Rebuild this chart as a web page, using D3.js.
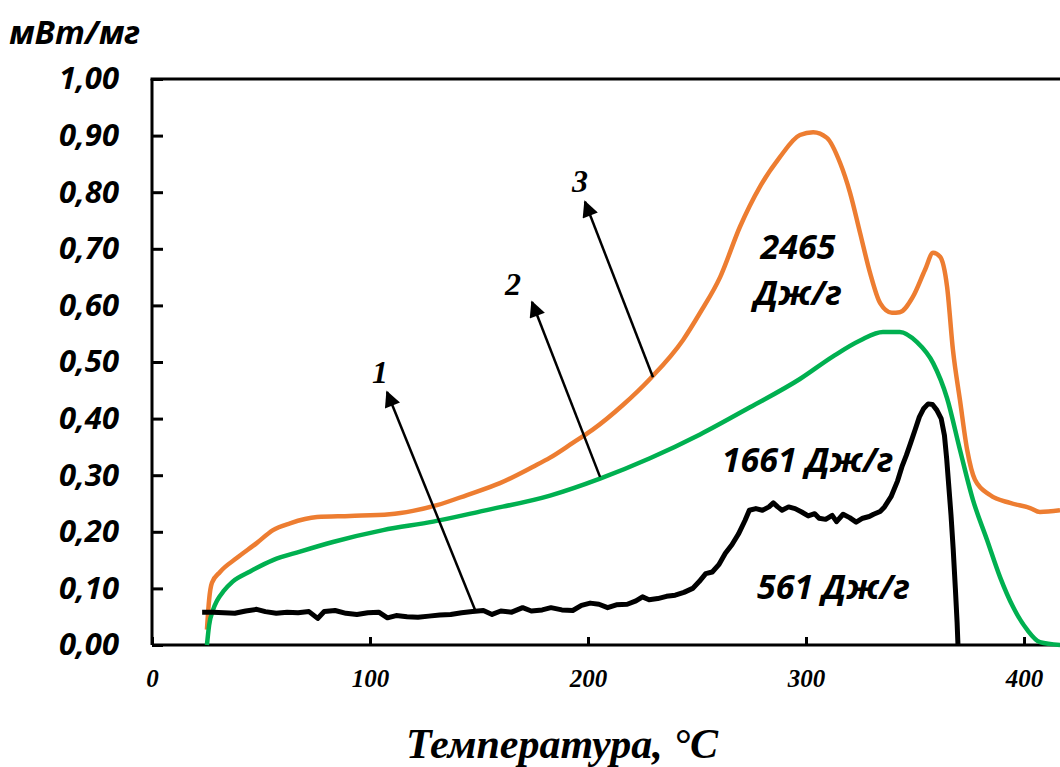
<!DOCTYPE html>
<html>
<head>
<meta charset="utf-8">
<script src="https://cdn.jsdelivr.net/npm/d3@7"></script>
<style>
  body { margin: 0; background: #fff; }
  svg { display: block; }
  .ytick text { font-family: "Open Sans", sans-serif; font-weight: 700; font-style: italic; }
  .xtick text { font-family: "Liberation Serif", serif; font-weight: 700; font-style: italic; }
</style>
</head>
<body>
<svg></svg>
<script>
// temperature (°C) / heat flow (mW/mg)
var curve1T = [23, 28, 33, 38, 43, 48, 52, 57, 62, 67, 72, 76, 79, 84, 89, 94, 99, 104, 108, 112, 117, 122, 127, 132, 137, 142, 147, 152, 156, 160, 165, 170, 174, 179, 183, 188, 193, 197, 201, 205, 209, 213, 218, 222, 225, 228, 232, 236, 240, 244, 248, 251, 254, 257, 260, 263, 266, 269, 272, 274, 277, 280, 283, 285, 287, 289, 292, 295, 298, 301, 304, 306, 309, 312, 314, 317, 320, 323, 326, 329, 331, 334, 336, 339, 342, 344, 346, 348, 350, 352, 354, 356, 358, 360, 362, 363.5, 364.5, 365.5, 366.5, 367.5, 368.5, 369.3, 369.7];
var curve1V = [0.058, 0.058, 0.057, 0.056, 0.060, 0.063, 0.059, 0.056, 0.058, 0.057, 0.059, 0.047, 0.059, 0.061, 0.056, 0.054, 0.057, 0.058, 0.048, 0.052, 0.050, 0.049, 0.051, 0.053, 0.054, 0.057, 0.059, 0.061, 0.054, 0.060, 0.058, 0.066, 0.060, 0.062, 0.066, 0.062, 0.061, 0.070, 0.074, 0.072, 0.066, 0.071, 0.072, 0.078, 0.085, 0.080, 0.082, 0.086, 0.088, 0.093, 0.100, 0.112, 0.126, 0.129, 0.142, 0.162, 0.177, 0.196, 0.220, 0.238, 0.241, 0.238, 0.244, 0.251, 0.244, 0.238, 0.244, 0.241, 0.235, 0.228, 0.232, 0.224, 0.222, 0.229, 0.218, 0.231, 0.225, 0.217, 0.224, 0.227, 0.231, 0.236, 0.244, 0.262, 0.290, 0.315, 0.335, 0.357, 0.380, 0.403, 0.418, 0.426, 0.425, 0.415, 0.400, 0.370, 0.330, 0.280, 0.230, 0.170, 0.100, 0.040, 0.000];

var curve2T = [25.2, 26.2, 28, 29.8, 33, 37, 45, 55.5, 67.9, 83, 106, 129, 151.8, 182.6, 205.5, 228.4, 251.4, 274.3, 297.2, 312.4, 324.8, 335.3, 343, 350.9, 358.3, 364.7, 370.6, 376.6, 383, 389, 395, 401.4, 407.3, 416.5];
var curve2V = [0.000, 0.035, 0.062, 0.078, 0.096, 0.112, 0.130, 0.150, 0.165, 0.182, 0.203, 0.218, 0.237, 0.264, 0.294, 0.330, 0.372, 0.420, 0.470, 0.510, 0.538, 0.553, 0.553, 0.535, 0.498, 0.436, 0.345, 0.256, 0.186, 0.120, 0.067, 0.027, 0.005, 0.000];

var curve3T = [25.2, 26.2, 27.5, 31.2, 39, 48, 55.5, 63.3, 75.7, 90.8, 109, 119.7, 130.7, 144.5, 159.6, 174.8, 182.6, 193, 202, 216, 228.4, 243.6, 251.4, 260.6, 269.7, 278.9, 288, 297.2, 303.3, 309.6, 315.6, 320.2, 324.8, 329.4, 334, 339.4, 343, 349, 354.6, 358.3, 361.5, 364.7, 367.4, 370.6, 373.9, 377.5, 384.4, 393.6, 402.8, 407.3, 416.5];
var curve3V = [0.027, 0.080, 0.110, 0.129, 0.154, 0.180, 0.203, 0.215, 0.226, 0.228, 0.231, 0.237, 0.247, 0.265, 0.286, 0.315, 0.331, 0.357, 0.380, 0.424, 0.470, 0.539, 0.587, 0.650, 0.739, 0.810, 0.862, 0.901, 0.906, 0.896, 0.852, 0.799, 0.728, 0.657, 0.604, 0.587, 0.588, 0.615, 0.663, 0.693, 0.686, 0.633, 0.521, 0.433, 0.345, 0.292, 0.265, 0.251, 0.242, 0.235, 0.238];

var yTicks = [0, 0.1, 0.2, 0.3, 0.4, 0.5, 0.6, 0.7, 0.8, 0.9, 1.0];
var xTicks = [0, 100, 200, 300, 400];

// curve numbers with arrows (from, to) and label spot, in data units
var arrowNames = ["1", "2", "3"];
var arrowFrom = [[148.2, 0.062], [205.5, 0.297], [229.8, 0.473]];
var arrowTo = [[107.8, 0.447], [174.3, 0.606], [198.6, 0.783]];
var arrowLabelAt = [[104.6, 0.482], [165.6, 0.638], [196.3, 0.820]];

// enthalpy notes
var heatTexts = [["2465", "Дж/г"], ["1661 Дж/г"], ["561 Дж/г"]];
var heatAt = [[296.3, 0.703], [300.7, 0.327], [312.6, 0.102]];

var width = 1060, height = 767;
var svg = d3.select("svg").attr("width", width).attr("height", height);

var x = d3.scaleLinear().domain([0, 416.5]).range([152, 1060]);
var y = d3.scaleLinear().domain([0, 1]).range([645, 79]);

svg.append("defs").append("marker")
    .attr("id", "head")
    .attr("viewBox", "0 0 10 10")
    .attr("refX", 9).attr("refY", 5)
    .attr("markerWidth", 7).attr("markerHeight", 6.5)
    .attr("markerUnits", "strokeWidth")
    .attr("orient", "auto")
  .append("path")
    .attr("d", "M0,0 L10,5 L0,10 z")
    .attr("fill", "#000");

// axes
var yAxis = svg.append("g")
    .attr("class", "ytick")
    .attr("transform", "translate(" + x(0) + ",0)")
    .call(d3.axisLeft(y)
      .tickValues(yTicks)
      .tickSize(-11)
      .tickSizeOuter(0)
      .tickPadding(33)
      .tickFormat(function (d) { return d.toFixed(2).replace(".", ","); }));
yAxis.selectAll("text").attr("font-size", 31).attr("fill", "#000");

var xAxis = svg.append("g")
    .attr("class", "xtick")
    .attr("transform", "translate(0," + y(0) + ")")
    .call(d3.axisBottom(x)
      .tickValues(xTicks)
      .tickSize(-8)
      .tickSizeOuter(0)
      .tickPadding(24)
      .tickFormat(d3.format("d")));
xAxis.selectAll("text").attr("font-size", 25).attr("fill", "#000");

svg.selectAll(".domain, .tick line").attr("stroke", "#000").attr("stroke-width", 3);
xAxis.select(".domain").attr("d", "M" + x(0) + ",0H" + width);
yAxis.select(".domain").attr("d", "M0," + y(1) + "V" + y(0));

// top frame line
svg.append("line")
    .attr("x1", x(0) - 1.5).attr("x2", width)
    .attr("y1", y(1)).attr("y2", y(1))
    .attr("stroke", "#000").attr("stroke-width", 3);

function series(ts, vs) {
  return ts.map(function (t, i) { return [t, vs[i]]; });
}

var line = d3.line()
    .x(function (d) { return x(d[0]); })
    .y(function (d) { return y(d[1]); });

svg.append("path")
    .datum(series(curve3T, curve3V))
    .attr("d", line.curve(d3.curveMonotoneX))
    .attr("fill", "none").attr("stroke", "#ED7D31").attr("stroke-width", 4.5)
    .attr("stroke-linejoin", "round");

svg.append("path")
    .datum(series(curve2T, curve2V))
    .attr("d", line.curve(d3.curveMonotoneX))
    .attr("fill", "none").attr("stroke", "#00B050").attr("stroke-width", 4.5)
    .attr("stroke-linejoin", "round");

svg.append("path")
    .datum(series(curve1T, curve1V))
    .attr("d", line.curve(d3.curveLinear))
    .attr("fill", "none").attr("stroke", "#000").attr("stroke-width", 5)
    .attr("stroke-linejoin", "round");

// arrows + numbers
arrowNames.forEach(function (name, i) {
  svg.append("line")
      .attr("x1", x(arrowFrom[i][0])).attr("y1", y(arrowFrom[i][1]))
      .attr("x2", x(arrowTo[i][0])).attr("y2", y(arrowTo[i][1]))
      .attr("stroke", "#000").attr("stroke-width", 2.5)
      .attr("marker-end", "url(#head)");
  svg.append("text")
      .attr("x", x(arrowLabelAt[i][0])).attr("y", y(arrowLabelAt[i][1]))
      .attr("dy", "0.35em")
      .attr("text-anchor", "middle")
      .attr("font-family", "Liberation Serif, serif")
      .attr("font-weight", 700).attr("font-style", "italic")
      .attr("font-size", 32)
      .text(name);
});

heatTexts.forEach(function (lines, i) {
  var t = svg.append("text")
      .attr("text-anchor", "middle")
      .attr("font-family", "Open Sans, sans-serif")
      .attr("font-weight", 700).attr("font-style", "italic")
      .attr("font-size", 34);
  lines.forEach(function (s, k) {
    t.append("tspan")
        .attr("x", x(heatAt[i][0]))
        .attr("y", y(heatAt[i][1]) + k * 46)
        .attr("dy", "0.35em")
        .text(s);
  });
});

// axis titles
svg.append("text")
    .attr("x", 9).attr("y", 32)
    .attr("dy", "0.35em")
    .attr("font-family", "Open Sans, sans-serif")
    .attr("font-weight", 700).attr("font-style", "italic")
    .attr("font-size", 33)
    .text("мВт/мг");

svg.append("text")
    .attr("x", 562).attr("y", 758)
    .attr("text-anchor", "middle")
    .attr("font-family", "Liberation Serif, serif")
    .attr("font-weight", 700).attr("font-style", "italic")
    .attr("font-size", 42)
    .text("Температура, °C");
</script>
</body>
</html>
